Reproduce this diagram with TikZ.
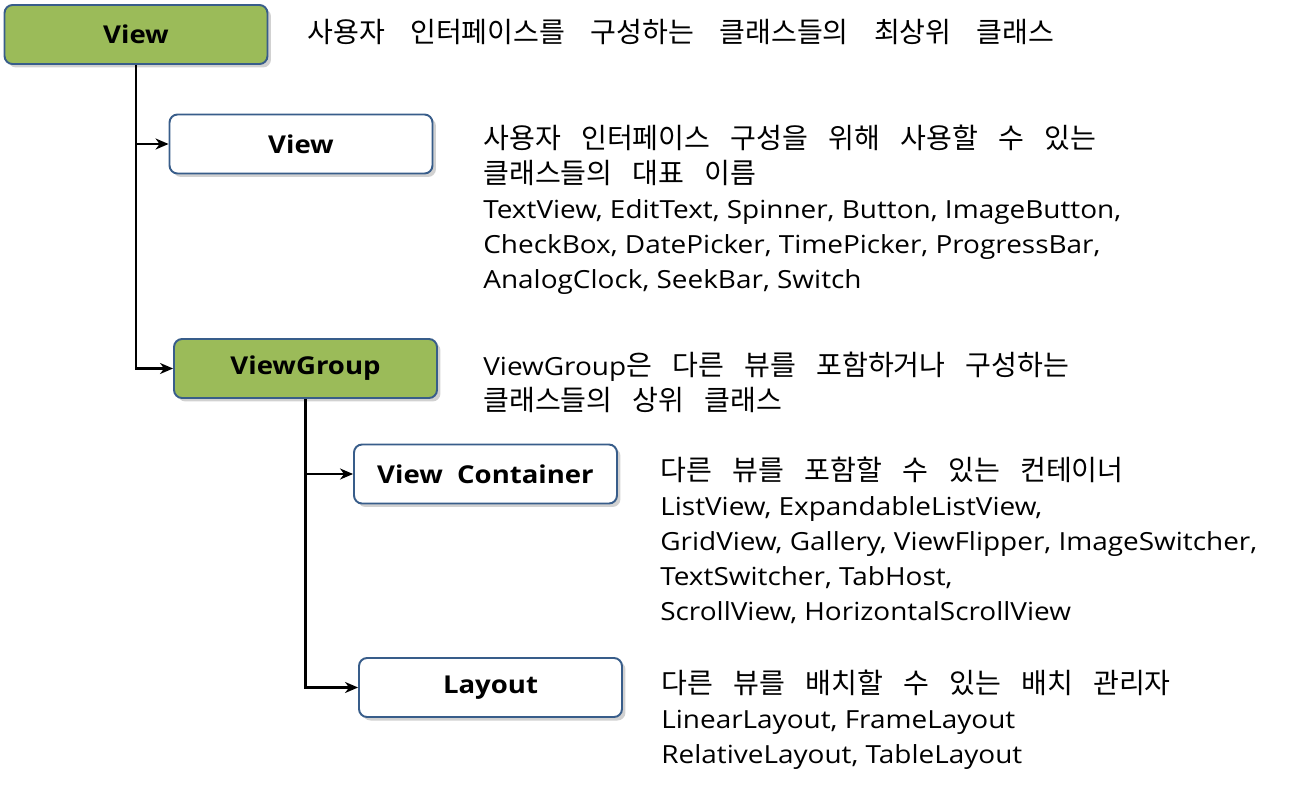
\documentclass[tikz,border=0pt]{standalone}
\usepackage{fontspec}
\setmainfont{Open Sans}[FakeStretch=1.12]
\newfontfamily\krfont{Noto Sans CJK KR}
\newcommand{\kr}[1]{{\krfont\fontsize{16}{19.92}\selectfont\spaceskip=0.72em\relax #1}}
\newcommand{\krwide}[1]{{\krfont\fontsize{16}{19.92}\selectfont\spaceskip=0.9em\relax #1}}
\usepackage{tikz}
\usetikzlibrary{arrows.meta,shadows}

\definecolor{boxgreen}{RGB}{155,187,89}
\definecolor{boxline}{RGB}{56,93,138}

\begin{document}
\begin{tikzpicture}[x=0.02cm,y=-0.02cm,
    box/.style={draw=boxline, line width=1.1pt, rounded corners=0.16cm,
      minimum width=5.26cm, minimum height=1.18cm, inner sep=0pt,
      font=\fontsize{14}{17}\selectfont\bfseries,
      drop shadow={shadow xshift=0.07cm, shadow yshift=-0.07cm, opacity=0.3, fill=black!60}},
    greenbox/.style={box, fill=boxgreen},
    whitebox/.style={box, fill=white},
    note/.style={anchor=base west, align=left, inner sep=0pt,
      font=\fontsize{14.2}{19.92}\selectfont},
    link/.style={line width=1.6pt, draw=black},
    arrow/.style={link, -{Stealth[length=0.26cm, width=0.22cm, inset=0.08cm]}}]
      \useasboundingbox (0,0) rectangle (1313,788);
      % boxes
      \node[greenbox] (view) at (136,34.5) {View};
      \node[whitebox] (views) at (301,144) {View};
      \node[greenbox] (group) at (305.5,368.5) {ViewGroup};
      \node[whitebox] (container) at (485.5,474) {View~~Container};
      \node[whitebox] (layout) at (490.5,687.5) {Layout};
      % notes (anchored on the baseline of the last line)
      \node[note] (viewtxt) at (307,42) {\krwide{사용자 인터페이스를 구성하는 클래스들의 최상위 클래스}};
      \node[note] (viewstxt) at (483,288) {\kr{사용자 인터페이스 구성을 위해 사용할 수 있는}\\
        \kr{클래스들의 대표 이름}\\
        TextView, EditText, Spinner, Button, ImageButton,\\
        CheckBox, DatePicker, TimePicker, ProgressBar,\\
        AnalogClock, SeekBar, Switch};
      \node[note] (grouptxt) at (483,410) {ViewGroup\kr{은 다른 뷰를 포함하거나 구성하는}\\
        \kr{클래스들의 상위 클래스}};
      \node[note] (containertxt) at (660,620) {\kr{다른 뷰를 포함할 수 있는 컨테이너}\\
        ListView, ExpandableListView,\\
        GridView, Gallery, ViewFlipper, ImageSwitcher,\\
        TextSwitcher, TabHost,\\
        ScrollView, HorizontalScrollView};
      \node[note] (layouttxt) at (661,763) {\kr{다른 뷰를 배치할 수 있는 배치 관리자}\\
        LinearLayout, FrameLayout\\
        RelativeLayout, TableLayout};
      % connectors
      \draw[arrow] (view.south) |- (group.west);
      \draw[arrow] (view.south |- views.west) -- (views.west);
      \draw[arrow] (group.south) |- (layout.west);
      \draw[arrow] (group.south |- container.west) -- (container.west);
    \end{tikzpicture}
\end{document}
